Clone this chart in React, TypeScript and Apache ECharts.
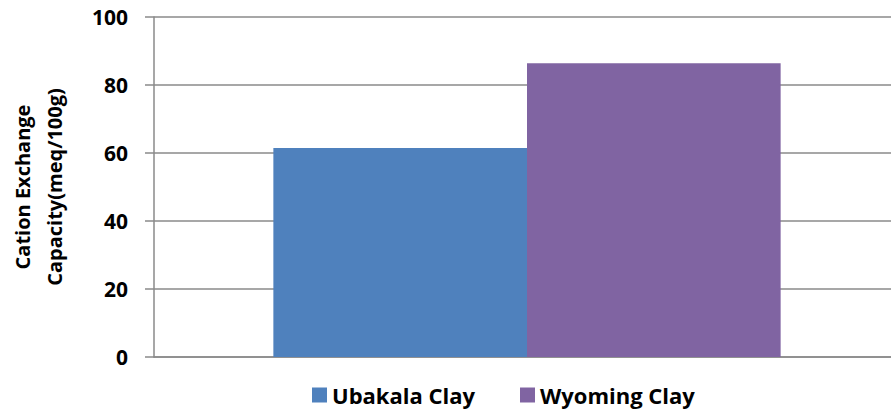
import React, { useEffect, useRef } from "react";
import * as echarts from "echarts";

const categories = [""];
const seriesNames = ["Ubakala Clay", "Wyoming Clay"];
const ubakalaValues = [61.5];
const wyomingValues = [86.4];
const yTicks = { min: 0, max: 100, interval: 20 };
const yAxisTitle = "Cation Exchange\nCapacity(meq/100g)";

const FONT = "'Open Sans', Lato, sans-serif";

export default function App() {
  const ref = useRef<HTMLDivElement>(null);
  useEffect(() => {
    document.body.style.margin = "0";
    const chart = echarts.init(ref.current!, null, { renderer: "svg" });
    chart.setOption({
      animation: false,
      backgroundColor: "#ffffff",
      grid: {
        left: 154,
        right: -9,
        top: 17,
        bottom: 59,
        containLabel: false,
        outerBoundsMode: "none",
      },
      legend: {
        top: 379,
        left: 307,
        itemWidth: 15,
        itemHeight: 15,
        itemGap: 45,
        icon: "rect",
        textStyle: { fontFamily: FONT, fontWeight: "bold", fontSize: 22, color: "#000" },
        data: seriesNames,
      },
      xAxis: {
        type: "category",
        data: categories,
        axisLine: { show: true, lineStyle: { color: "#8a8a8a", width: 1.5 } },
        axisTick: { show: false },
        axisLabel: { show: false },
      },
      yAxis: {
        type: "value",
        min: yTicks.min,
        max: yTicks.max,
        interval: yTicks.interval,
        name: yAxisTitle,
        nameLocation: "middle",
        nameRotate: 90,
        nameGap: 84,
        nameTextStyle: {
          fontFamily: FONT,
          fontWeight: "bold",
          fontSize: 20,
          color: "#000",
          lineHeight: 32,
        },
        axisLine: { show: true, lineStyle: { color: "#8a8a8a", width: 1.5 } },
        axisTick: { show: true, length: 9, lineStyle: { color: "#8a8a8a", width: 1.5 } },
        axisLabel: {
          margin: 26,
          fontFamily: FONT,
          fontWeight: "bold",
          fontSize: 21,
          color: "#000",
        },
        splitLine: { show: true, lineStyle: { color: "#8a8a8a", width: 1.5 } },
      },
      series: [
        {
          name: seriesNames[0],
          type: "bar",
          data: ubakalaValues,
          barGap: "0%",
          barWidth: "34%",
          itemStyle: { color: "#4f81bd" },
        },
        {
          name: seriesNames[1],
          type: "bar",
          data: wyomingValues,
          barGap: "0%",
          barWidth: "34%",
          itemStyle: { color: "#8064a2" },
        },
      ],
    });
    return () => chart.dispose();
  }, []);
  return (
    <div
      ref={ref}
      style={{ position: "absolute", left: 0, top: 0, width: 891, height: 416 }}
    />
  );
}
